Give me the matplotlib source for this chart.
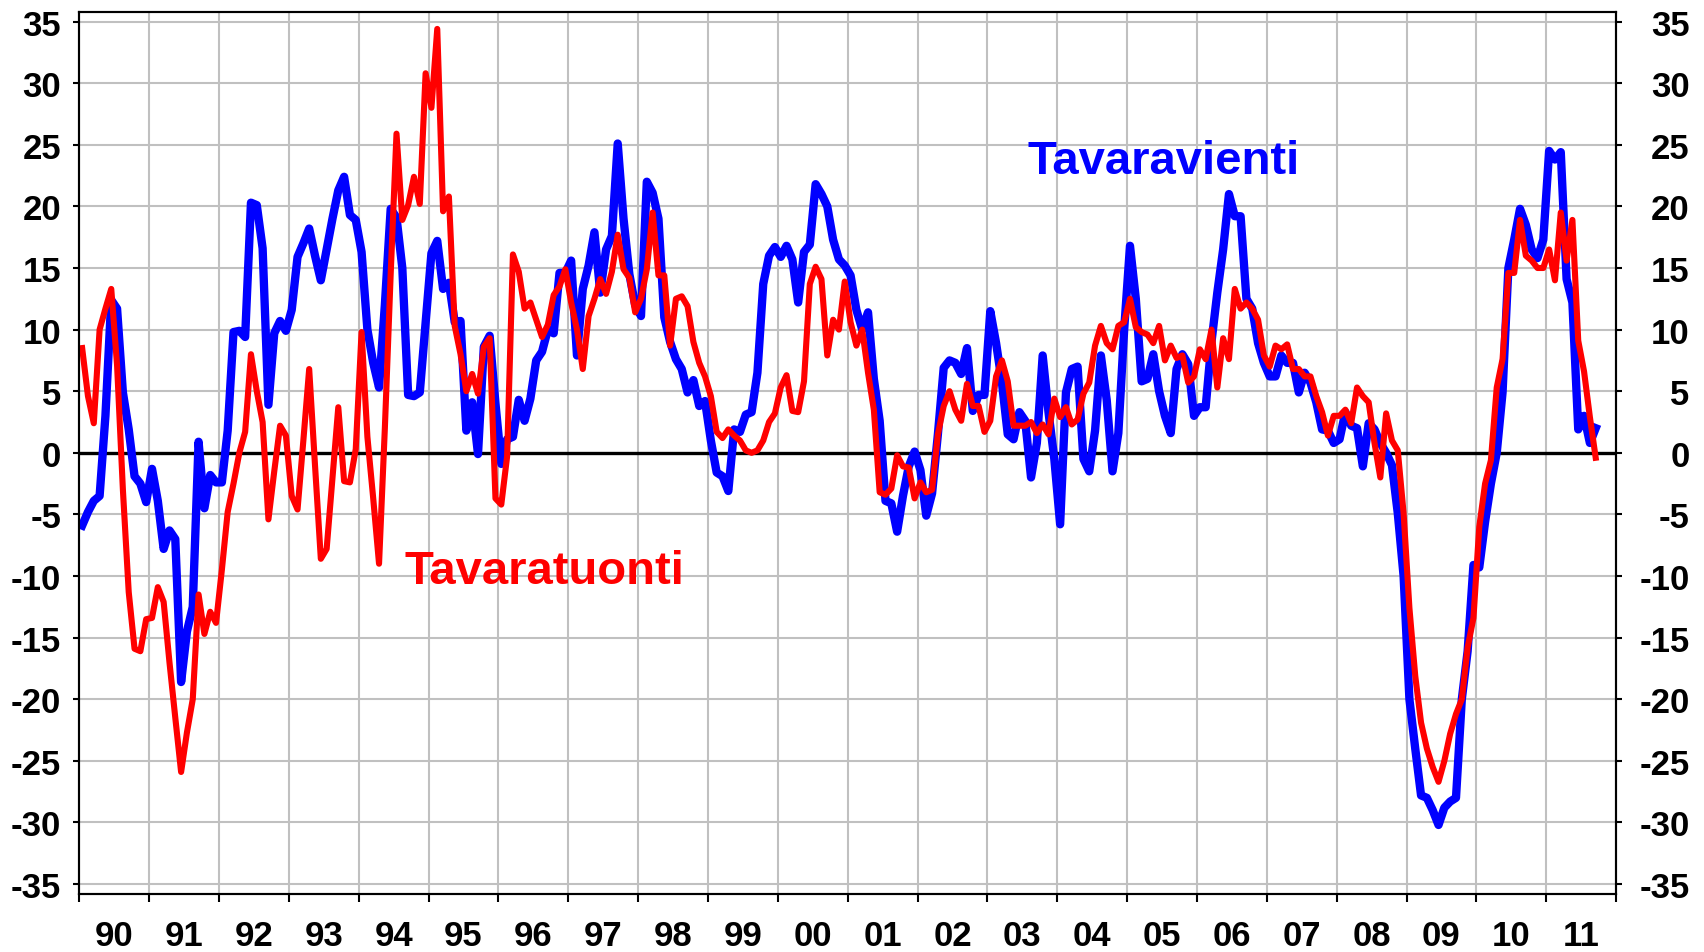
import numpy as np
import matplotlib
matplotlib.use("Agg")
import matplotlib.pyplot as plt

plt.rcParams['font.family'] = ['Liberation Sans', 'DejaVu Sans']

# monthly series, Jan 1990 .. Sep 2011 (y/y change, %)
vienti = [
    -5.9, -4.8, -3.9, -3.5, 3.0, 12.4, 11.7, 4.9, 1.9, -1.9, -2.5, -4.0,          # 1990
    -1.3, -3.9, -7.8, -6.3, -7.0, -18.6, -14.5, -12.5, 0.9, -4.5, -1.8, -2.4,     # 1991
    -2.4, 1.8, 9.8, 9.9, 9.4, 20.3, 20.1, 16.6, 3.9, 9.7, 10.7, 9.9,              # 1992
    11.6, 15.9, 17.0, 18.2, 16.0, 14.0, 16.5, 19.0, 21.3, 22.4, 19.3, 18.9,       # 1993
    16.3, 10.0, 7.3, 5.3, 12.0, 19.8, 19.1, 15.0, 4.7, 4.6, 4.9, 10.5,            # 1994
    16.2, 17.2, 13.3, 13.8, 10.6, 10.7, 1.8, 4.1, -0.1, 8.6, 9.5, 4.0,            # 1995
    -0.9, 1.1, 1.3, 4.3, 2.6, 4.4, 7.5, 8.2, 10.0, 9.7, 14.6, 14.6,               # 1996
    15.6, 7.9, 13.3, 15.2, 17.9, 13.0, 16.5, 17.6, 25.1, 19.0, 14.5, 12.0,        # 1997
    11.1, 22.0, 21.1, 19.0, 11.0, 9.0, 7.6, 6.8, 4.9, 5.9, 3.8, 4.2,              # 1998
    1.0, -1.6, -1.9, -3.1, 1.9, 1.7, 3.1, 3.3, 6.5, 13.7, 16.0, 16.7,             # 1999
    15.9, 16.8, 15.7, 12.2, 16.3, 16.9, 21.8, 21.0, 20.0, 17.3, 15.7, 15.2,       # 2000
    14.4, 11.6, 10.0, 11.4, 6.0, 2.6, -3.9, -4.1, -6.4, -3.5, -1.1, 0.1,          # 2001
    -1.4, -5.1, -3.3, 1.5, 6.9, 7.5, 7.3, 6.4, 8.5, 3.4, 4.7, 4.7,                # 2002
    11.5, 8.9, 5.7, 1.5, 1.1, 3.3, 2.6, -2.0, 0.8, 7.9, 3.3, -0.5,                # 2003
    -5.8, 4.9, 6.8, 7.0, -0.5, -1.5, 1.8, 7.9, 4.3, -1.5, 1.6, 10.0,              # 2004
    16.8, 12.5, 5.8, 6.0, 8.0, 5.0, 3.0, 1.6, 6.8, 8.0, 7.2, 3.0,                 # 2005
    3.7, 3.7, 9.0, 13.0, 16.5, 21.0, 19.2, 19.2, 12.5, 11.7, 8.9, 7.3,            # 2006
    6.2, 6.2, 7.9, 7.3, 7.3, 4.9, 6.5, 5.7, 4.1, 1.9, 1.8, 0.8,                   # 2007
    1.1, 3.3, 2.2, 2.0, -1.1, 2.4, 1.9, 0.8, 0.0, -1.0, -4.9, -10.0,              # 2008
    -20.0, -24.0, -27.8, -28.0, -29.0, -30.2, -28.8, -28.3, -28.0, -20.0, -16.1, -9.1,  # 2009
    -9.3, -5.6, -2.5, 0.0, 4.9, 15.0, 17.3, 19.8, 18.5, 16.5, 15.8, 17.3,         # 2010
    24.5, 23.8, 24.4, 14.1, 12.2, 1.9, 3.0, 0.8, 2.0,                             # 2011
]

tuonti = [
    8.5, 4.6, 2.4, 10.0, 11.7, 13.3, 7.1, -3.0, -11.3, -15.9, -16.1, -13.5,       # 1990
    -13.4, -10.9, -12.1, -17.0, -21.5, -25.9, -22.7, -20.0, -11.5, -14.7, -12.9, -13.8,  # 1991
    -9.5, -4.8, -2.5, 0.0, 1.7, 8.0, 5.0, 2.5, -5.4, -1.5, 2.2, 1.4,              # 1992
    -3.5, -4.6, 1.0, 6.8, -1.0, -8.6, -7.8, -2.0, 3.7, -2.3, -2.4, 0.3,           # 1993
    9.8, 1.3, -3.7, -9.0, 2.0, 14.5, 25.9, 18.9, 20.1, 22.4, 20.2, 30.8,          # 1994
    28.0, 34.4, 19.6, 20.8, 10.3, 8.0, 5.0, 6.4, 4.8, 8.6, 9.3, -3.7,             # 1995
    -4.2, -0.3, 16.1, 14.7, 11.7, 12.2, 10.8, 9.4, 10.4, 12.8, 13.5, 14.9,        # 1996
    12.2, 10.0, 6.8, 11.1, 12.5, 14.1, 12.9, 14.7, 17.7, 14.9, 14.2, 11.4,        # 1997
    12.5, 14.9, 19.5, 14.4, 14.4, 8.7, 12.5, 12.7, 11.9, 9.0, 7.3, 6.2,           # 1998
    4.6, 1.7, 1.2, 1.9, 1.4, 1.0, 0.2, 0.0, 0.2, 1.0, 2.5, 3.2,                   # 1999
    5.3, 6.3, 3.4, 3.3, 5.8, 13.7, 15.1, 14.1, 7.9, 10.8, 10.0, 13.9,             # 2000
    10.6, 8.7, 10.0, 6.5, 3.5, -3.2, -3.4, -2.9, -0.2, -1.1, -1.2, -3.7,          # 2001
    -2.4, -3.2, -3.0, 1.5, 3.8, 5.0, 3.5, 2.6, 5.6, 3.8, 3.8, 1.7,                # 2002
    2.6, 6.2, 7.5, 5.8, 2.2, 2.2, 2.2, 2.5, 1.6, 2.3, 1.5, 4.4,                   # 2003
    2.9, 3.7, 2.3, 2.7, 4.8, 5.7, 8.7, 10.3, 8.9, 8.4, 10.3, 10.6,                # 2004
    12.5, 10.2, 9.8, 9.6, 8.9, 10.3, 7.5, 8.7, 7.7, 7.9, 5.7, 6.2,                # 2005
    8.4, 7.6, 10.0, 5.3, 9.3, 7.6, 13.3, 11.7, 12.2, 11.7, 10.8, 7.9,             # 2006
    7.0, 8.7, 8.4, 8.8, 6.8, 6.8, 6.2, 6.2, 4.6, 3.3, 1.4, 3.0,                   # 2007
    3.0, 3.5, 2.4, 5.3, 4.6, 4.1, 0.8, -2.0, 3.2, 1.0, 0.2, -4.9,                 # 2008
    -12.6, -18.1, -21.9, -24.0, -25.5, -26.7, -25.0, -22.8, -21.2, -20.0, -15.8, -13.4,  # 2009
    -6.0, -2.5, -0.6, 5.3, 7.6, 14.6, 14.6, 18.9, 16.0, 15.6, 15.0, 15.0,         # 2010
    16.5, 14.0, 19.5, 15.6, 18.9, 9.1, 6.6, 2.9, -0.4,                            # 2011
]

years = list(range(1990, 2012))
year_labels = [f"{y % 100:02d}" for y in years]
y_ticks = list(range(-35, 40, 5))

# month index -> decimal year, plotted mid-month
t_v = 1990 + (np.arange(len(vienti)) + 0.5) / 12
t_t = 1990 + (np.arange(len(tuonti)) + 0.5) / 12

fig = plt.figure(figsize=(17.04, 9.53), dpi=100)
ax = fig.add_axes([0.0465, 0.0609, 0.9019, 0.9258])

ax.set_xlim(1990, 2012)
ax.set_ylim(-35.8, 35.8)

# grid
for y in y_ticks:
    if y != 0:
        ax.axhline(y, color='#C0C0C0', lw=1.5, zorder=1)
for y in years[1:]:
    ax.axvline(y, color='#C0C0C0', lw=1.5, zorder=1)
ax.axhline(0, color='black', lw=2.4, zorder=2)

ax.plot(t_v, vienti, color='#0000FF', lw=6.0, zorder=3, solid_joinstyle='round')
ax.plot(t_t, tuonti, color='#FF0000', lw=4.4, zorder=4, solid_joinstyle='round')

ax.text(2003.58, 23.7, 'Tavaravienti', color='#0000FF', fontsize=34,
        fontweight='bold', ha='left', va='center', zorder=5)
ax.text(1994.65, -9.6, 'Tavaratuonti', color='#FF0000', fontsize=34,
        fontweight='bold', ha='left', va='center', zorder=5)

for s in ax.spines.values():
    s.set_linewidth(1.5)

# x axis: ticks at year boundaries, labels at mid-year
ax.set_xticks(years + [2012])
ax.set_xticklabels([])
ax.set_xticks([y + 0.5 for y in years], minor=True)
ax.set_xticklabels(year_labels, minor=True, fontsize=25, fontweight='bold')
ax.tick_params(axis='x', which='major', direction='out', length=6, width=1.5)
ax.tick_params(axis='x', which='minor', length=0, pad=18)

ax.set_yticks(y_ticks)
ax.set_yticklabels([str(v) for v in y_ticks], fontsize=25, fontweight='bold')
ax.tick_params(axis='y', direction='out', length=4, width=1.5, pad=9)

# right-hand labels
ax2 = ax.twinx()
ax2.set_ylim(ax.get_ylim())
ax2.set_yticks(y_ticks)
ax2.set_yticklabels([str(v) for v in y_ticks], fontsize=25, fontweight='bold', ha='right')
ax2.tick_params(axis='y', direction='out', length=4, width=1.5, pad=49)
for s in ax2.spines.values():
    s.set_linewidth(1.5)

fig.savefig("out.png", dpi=100)
